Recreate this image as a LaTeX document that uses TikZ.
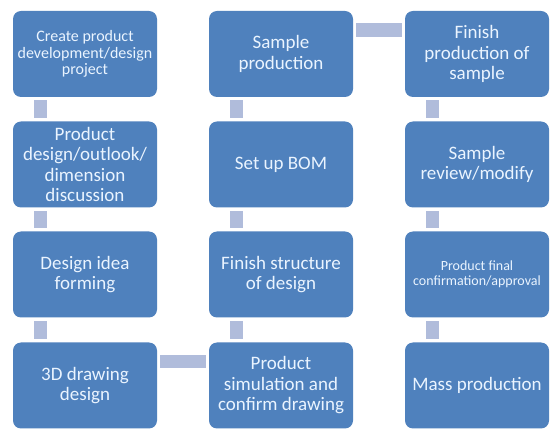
\documentclass[tikz,border=0pt]{standalone}
\usepackage{fontspec}
\setmainfont{Carlito}
\definecolor{boxblue}{HTML}{4F81BD}
\definecolor{connblue}{HTML}{B0BCDB}
\definecolor{txt}{HTML}{EAF4FF}
\begin{document}
\begin{tikzpicture}[x=1pt,y=-1pt,
  stepbox/.style={fill=boxblue, rounded corners=8pt, minimum width=144pt, minimum height=86pt,
    inner sep=0pt, align=center, text=txt, font=\fontsize{19}{20.5}\selectfont},
  mid/.style={font=\fontsize{16}{16.5}\selectfont},
  small/.style={font=\fontsize{14}{15.5}\selectfont},
  conn/.style={fill=connblue}]
\useasboundingbox[fill=white] (0,0) rectangle (560,438);
% boxes
\node[stepbox,mid] (a1) at (85,54) {Create product\\development/design\\project};
\node[stepbox] (a2) at (85,164.5) {Product\\design/outlook/\\dimension\\discussion};
\node[stepbox] (a3) at (85,274.5) {Design idea\\forming};
\node[stepbox] (a4) at (85,385.5) {3D drawing\\design};
\node[stepbox] (b1) at (281,54) {Sample\\production};
\node[stepbox] (b2) at (281,164.5) {Set up BOM};
\node[stepbox] (b3) at (281,274.5) {Finish structure\\of design};
\node[stepbox] (b4) at (281,385.5) {Product\\simulation and\\confirm drawing};
\node[stepbox] (c1) at (477,54) {Finish\\production of\\sample};
\node[stepbox] (c2) at (477,164.5) {Sample\\review/modify};
\node[stepbox,small] (c3) at (477,274.5) {Product final\\confirmation/approval};
\node[stepbox] (c4) at (477,385.5) {Mass production};
% vertical connectors
\foreach \u/\v in {a1/a2,a2/a3,a3/a4,b1/b2,b2/b3,b3/b4,c1/c2,c2/c3,c3/c4}
  \fill[conn] ([xshift=21pt,yshift=-3pt]\u.south west) rectangle ([xshift=34pt,yshift=3pt]\v.north west);
% horizontal connectors
\fill[conn] ([xshift=3pt,yshift=-13pt]a4.north east) rectangle ([xshift=-3pt,yshift=-26pt]b4.north west);
\fill[conn] ([xshift=3pt,yshift=-12.5pt]b1.north east) rectangle ([xshift=-3pt,yshift=-26.5pt]c1.north west);
\end{tikzpicture}
\end{document}
